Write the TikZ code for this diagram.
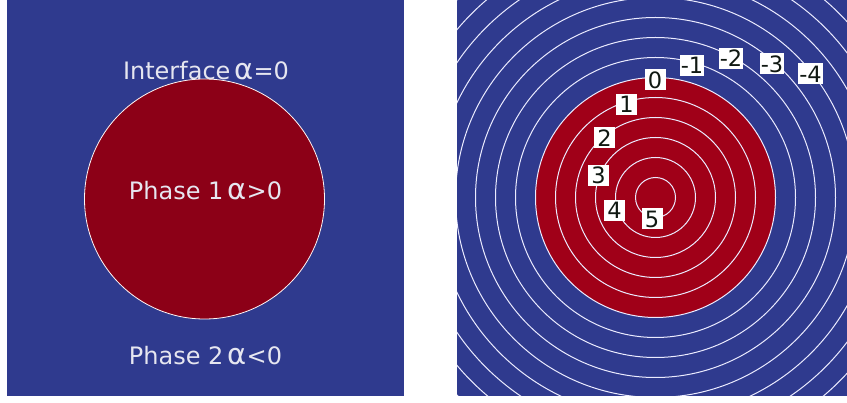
\documentclass[tikz,border=0pt]{standalone}
\usepackage{fontspec}
\setmainfont{DejaVu Sans}
\definecolor{bgblue}{HTML}{2F3A8E}
\definecolor{redL}{HTML}{8C0017}
\definecolor{redR}{HTML}{A00018}
\definecolor{txtw}{HTML}{E6E6F0}
\definecolor{lbltxt}{HTML}{101812}
\tikzset{
  paneltext/.style={text=txtw, anchor=base, inner sep=0pt, font=\fontsize{24}{28}\selectfont},
  lvl/.style={fill=white, text=lbltxt, inner sep=0.8pt, minimum width=21pt, minimum height=21pt, font=\fontsize{22.5}{24}\selectfont},
  contour/.style={draw=white!92!blue, line width=1pt},
}
\newcommand{\alp}{{\fontsize{29}{29}\selectfont α}}
\begin{document}
\begin{tikzpicture}[x=1pt,y=-1pt]
\useasboundingbox (0,0) rectangle (847,403);
\fill[white] (0,0) rectangle (847,403);
% left panel
\fill[bgblue] (7,0) rectangle (404,396);
\fill[redL] (204.5,199) circle[radius=120pt];
\draw[draw=white!85!pink, line width=0.8pt] (204.5,199) circle[radius=120pt];
\node[paneltext] (iface) at (206,80) {Interface\,\alp=0};
\node[paneltext] (ph1) at (205.5,199.5) {Phase 1\,\alp>0};
\node[paneltext] (ph2) at (205.5,365) {Phase 2\,\alp<0};
% right panel
\begin{scope}
\clip (457,0) rectangle (847,396);
\fill[bgblue] (457,0) rectangle (847,396);
\fill[redR] (655.5,197.5) circle[radius=120pt];
\foreach \r in {20,40,...,300} {
  \draw[contour] (655.5,197.5) circle[radius=\r pt];
}
\end{scope}
\node[lvl] (l0) at (655,80) {0};
\node[lvl] (l1) at (626.5,104.5) {1};
\node[lvl] (l2) at (604.5,138) {2};
\node[lvl] (l3) at (598.5,175.5) {3};
\node[lvl] (l4) at (614.5,210.5) {4};
\node[lvl] (l5) at (652,219) {5};
\node[lvl] (lm1) at (692,65.5) {-1};
\node[lvl] (lm2) at (731,58.5) {-2};
\node[lvl] (lm3) at (772,64) {-3};
\node[lvl] (lm4) at (810.5,74) {-4};
\end{tikzpicture}
\end{document}
